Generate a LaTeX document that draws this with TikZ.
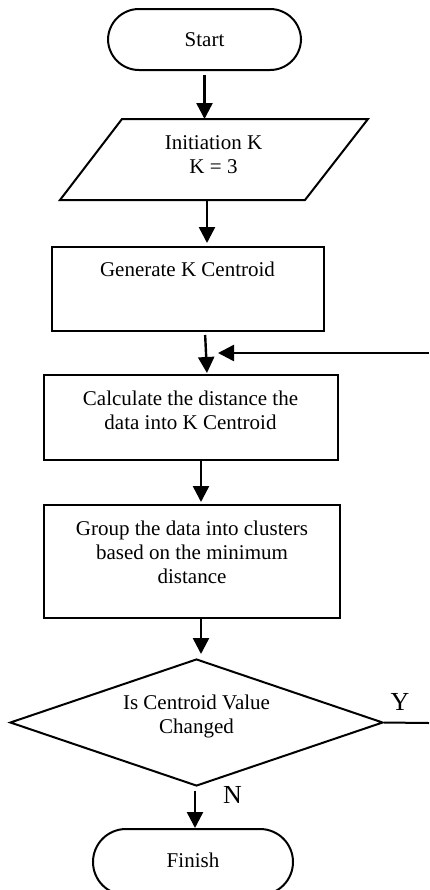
\documentclass[tikz,border=0pt]{standalone}
\usepackage{fontspec}
\setmainfont{Liberation Serif}
\usetikzlibrary{arrows.meta,shapes.geometric}
\begin{document}
\begin{tikzpicture}[x=0.5pt,y=-0.5pt,
  box/.style={draw, line width=1pt, inner sep=0pt},
  term/.style={box, rounded corners=15.5pt},
  txt/.style={align=center, inner sep=0pt, font=\fontsize{10.5}{12}\selectfont},
  yn/.style={inner sep=0pt, font=\fontsize{13}{15}\selectfont},
  arr/.style={line width=1.2pt, -{Triangle[length=8pt,width=8pt]}},
  plain/.style={line width=1pt},
]
\useasboundingbox (0,0) rectangle (429,890);
% start
\node[term, txt, minimum width=96.5pt, minimum height=30.5pt] (start) at (204.5,39.5) {Start};
% parallelogram
\coordinate (p1) at (60,200);
\coordinate (p2) at (122,119);
\coordinate (p3) at (368,119);
\coordinate (p4) at (305,200);
\draw[plain] (p1) -- (p2) -- (p3) -- (p4) -- cycle;
\node[txt] (init) at (213.5,155) {Initiation K\\K = 3};
\coordinate (ptop) at (204.5,119);
\coordinate (pbot) at (207,200);
% generate
\node[box, minimum width=136pt, minimum height=42pt] (gen) at (188,289) {};
\node[txt] (gentxt) at (187.5,269) {Generate K Centroid};
% calculate
\node[box, minimum width=147pt, minimum height=42.5pt] (calc) at (191,417.5) {};
\node[txt] (calctxt) at (190.5,410) {Calculate the distance the\\data into K Centroid};
% group
\node[box, minimum width=148pt, minimum height=56.5pt] (grp) at (192,561.5) {};
\node[txt] (grptxt) at (192,552) {Group the data into clusters\\based on the minimum\\distance};
% decision
\node[diamond, draw, line width=1pt, minimum width=186.5pt, minimum height=63.5pt, inner sep=0pt] (dia) at (196.5,722.5) {};
\node[txt] (diatxt) at (196.5,716.5) {Is Centroid Value\\Changed};
% finish
\node[term, minimum width=100pt, minimum height=33pt, rounded corners=16.5pt] (finish) at (193,862) {};
\node[txt] (fintxt) at (193,860) {Finish};
% labels
\node[yn] (ylab) at (400,702) {Y};
\node[yn] (nlab) at (232.5,795) {N};
% loop stubs
\coordinate (yend) at (429,723);
\coordinate (fbs) at (429,353);
\coordinate (fbe) at (218,353);
\draw[plain] (dia.east) -- (yend);
\draw[arr] (fbs) -- (fbe);
% arrows
\draw[arr, shorten <=2pt] (start.south) -- (ptop);
\draw[arr, shorten >=1.5pt] (pbot) -- (pbot |- gen.north);
\draw[arr, shorten <=1.5pt, shorten >=0.5pt] ([xshift=8.5pt]gen.south) -- ([xshift=8pt]calc.north);
\draw[arr, shorten >=1pt] ([xshift=5pt]calc.south) -- ([xshift=4.5pt]grp.north);
\draw[arr, shorten >=2pt] ([xshift=4.5pt]grp.south) -- ([xshift=4.5pt]grp.south |- dia.north);
\draw[arr, shorten <=2pt] ([xshift=-0.75pt]dia.south) -- ([xshift=-0.75pt]dia.south |- finish.north);
\end{tikzpicture}
\end{document}
